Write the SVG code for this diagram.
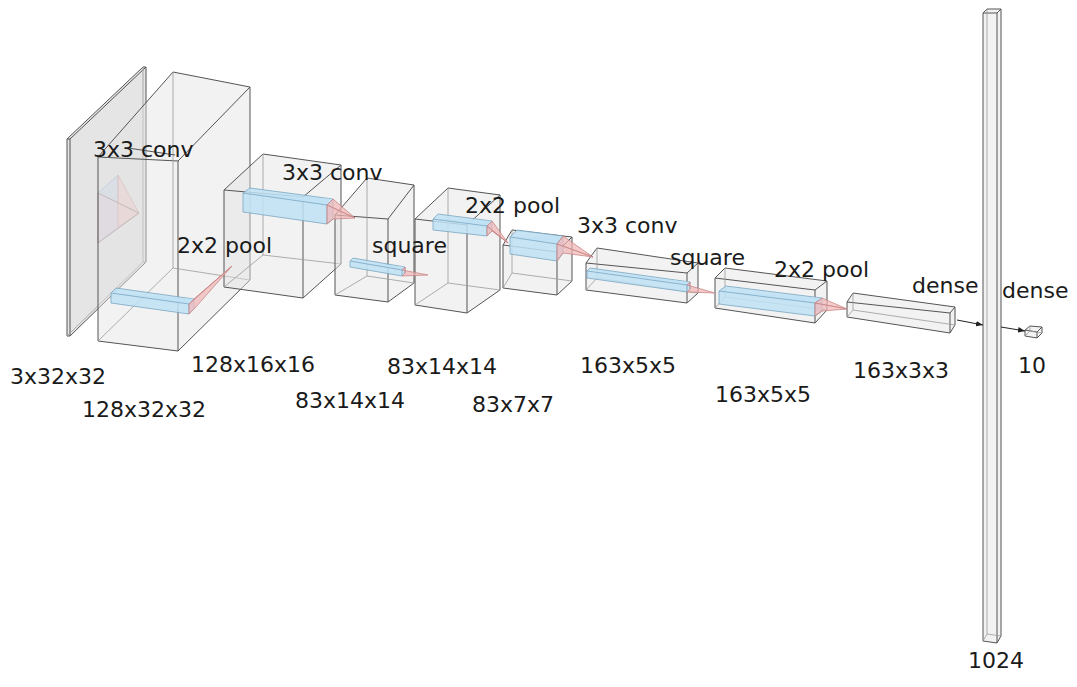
<svg xmlns="http://www.w3.org/2000/svg" width="1077" height="687" viewBox="0 0 1077 687">
<defs>
<style>
.sil{fill:#e2e2e2;fill-opacity:0.45;stroke:none}
.plane{fill:#cfcfcf;fill-opacity:0.55;stroke:none}
.vis{fill:none;stroke:#555;stroke-width:1}
.hid{fill:none;stroke:#9a9a9a;stroke-width:0.8}
.blue{fill:#bfe2f4;fill-opacity:0.85;stroke:#7aa6c2;stroke-width:0.8}
.pink{fill:#f2b5b5;fill-opacity:0.7;stroke:#c98686;stroke-width:0.8}
.faint-b{fill:#cdd9ea;fill-opacity:0.7;stroke:#aab6c8;stroke-width:0.7}
.faint-p{fill:#f0cccc;fill-opacity:0.75;stroke:#d4a8a8;stroke-width:0.7}
.arrow{fill:none;stroke:#222;stroke-width:1}
text{font-family:"DejaVu Sans",Verdana,sans-serif;font-size:22px;fill:#1a1a1a}
</style>
<marker id="ah" viewBox="0 0 10 10" refX="10" refY="5" markerWidth="7" markerHeight="7" orient="auto" markerUnits="userSpaceOnUse">
<path d="M0,1 L10,5 L0,9 Z" fill="#222"/>
</marker>
</defs>
<rect width="1077" height="687" fill="#ffffff"/>

<g id="layer-input">
<polygon class="plane" points="67,139 143,67 146,67 146,262 70,336 67,336"/>
<path class="vis" d="M67,139 L70,139 L70,336 L67,336 Z M67,139 L143,67 L146,67 L70,139 M146,67 L146,262 L70,336"/>
<path class="hid" d="M143,67 L143,262 L146,262 M143,262 L67,336"/>
<polygon class="faint-b" points="98,193 118,175 118,227 98,243"/>
<polygon class="faint-p" points="118,175 139,213 118,227"/>
<polygon class="faint-p" points="98,193 139,213 98,243" style="fill-opacity:0.35"/>
<path class="hid" d="M98,193 L139,213 M98,243 L139,213"/>
</g>

<g id="layer-conv1">
<polygon class="sil" points="98,157 173,72 250,87 250,280 178,351 98,341"/>
<path class="vis" d="M98,157 L178,161 L178,351 L98,341 Z M98,157 L173,72 L250,87 L178,161 M250,87 L250,280 L178,351"/>
<path class="hid" d="M173,72 L173,268 L250,280 M173,268 L98,341"/>
</g>

<g id="layer-pool1">
<polygon class="sil" points="224,190 263,154 341,165 341,264 303,298 224,287"/>
<path class="vis" d="M224,190 L303,197 L303,298 L224,287 Z M224,190 L263,154 L341,165 L303,197 M341,165 L341,264 L303,298"/>
<path class="hid" d="M263,154 L263,255 L341,264 M263,255 L224,287"/>
</g>

<g id="layer-conv2">
<polygon class="sil" points="335,215 367,178 414,185 414,283 388,302 335,295"/>
<path class="vis" d="M335,215 L388,219 L388,302 L335,295 Z M335,215 L367,178 L414,185 L388,219 M414,185 L414,283 L388,302"/>
<path class="hid" d="M367,178 L367,276 L414,283 M367,276 L335,295"/>
</g>

<g id="layer-square1">
<polygon class="sil" points="415,219 448,188 500,195 500,290 467,313 415,305"/>
<path class="vis" d="M415,219 L467,225 L467,313 L415,305 Z M415,219 L448,188 L500,195 L467,225 M500,195 L500,290 L467,313"/>
<path class="hid" d="M448,188 L448,283 L500,290 M448,283 L415,305"/>
</g>

<g id="layer-pool2">
<polygon class="sil" points="503,245 512,230 572,237 572,281 557,295 503,288"/>
<path class="vis" d="M503,245 L557,252 L557,295 L503,288 Z M503,245 L512,230 L572,237 L557,252 M572,237 L572,281 L557,295"/>
<path class="hid" d="M512,230 L512,273 L572,281 M512,273 L503,288"/>
</g>

<g id="layer-conv3">
<polygon class="sil" points="586,263 597,248 698,263 698,293 687,303 586,290"/>
<path class="vis" d="M586,263 L687,273 L687,303 L586,290 Z M586,263 L597,248 L698,263 L687,273 M698,263 L698,293 L687,303"/>
<path class="hid" d="M597,248 L597,278 L698,293 M597,278 L586,290"/>
</g>

<g id="layer-square2">
<polygon class="sil" points="715,278 725,268 827,281 827,310 815,323 715,308"/>
<path class="vis" d="M715,278 L815,290 L815,323 L715,308 Z M715,278 L725,268 L827,281 L815,290 M827,281 L827,310 L815,323"/>
<path class="hid" d="M725,268 L725,297 L827,310 M725,297 L715,308"/>
</g>

<g id="layer-pool3">
<polygon class="sil" points="847,302 853,293 955,307 955,325 950,333 847,317"/>
<path class="vis" d="M847,302 L950,313 L950,333 L847,317 Z M847,302 L853,293 L955,307 L950,313 M955,307 L955,325 L950,333"/>
<path class="hid" d="M853,293 L853,310 L955,325 M853,310 L847,317"/>
</g>

<g id="layer-dense1">
<polygon class="sil" points="983,13 987,9 1001,9 1001,636 997,643 983,641"/>
<path class="vis" d="M983,13 L997,13 L997,643 L983,641 Z M983,13 L987,9 L1001,9 L997,13 M1001,9 L1001,636 L997,643"/>
<path class="hid" d="M987,9 L987,634 L1001,636 M987,634 L983,641"/>
</g>

<g id="layer-dense2">
<polygon class="sil" points="1025,330 1030,326 1042,327 1042,333 1037,338 1025,336"/>
<path class="vis" d="M1025,330 L1037,332 L1037,338 L1025,336 Z M1025,330 L1030,326 L1042,327 L1037,332 M1042,327 L1042,333 L1037,338"/>
<path class="hid" d="M1030,326 L1030,331 L1042,333 M1030,331 L1025,336"/>
</g>

<g id="kernels">
<path class="vis" d="M128,148 L175,155"/>
<polygon class="blue" points="111,293 116,288 194,299 194,309 189,314 111,303"/>
<path class="blue" d="M111,293 L189,304 L194,299 M189,304 L189,314"/>
<polygon class="pink" points="189,304 194,299 232,266"/>
<polygon class="pink" points="189,304 189,314 194,309 232,266"/>
<polygon class="blue" points="243,193 250,188 333,199 333,219 327,224 243,212"/>
<path class="blue" d="M243,193 L327,205 L333,199 M327,205 L327,224"/>
<polygon class="pink" points="327,205 333,199 355,218"/>
<polygon class="pink" points="327,205 327,224 333,219 355,218"/>
<polygon class="blue" points="350,261 353,258 405,267 405,273 402,276 350,267"/>
<path class="blue" d="M350,261 L402,270 L405,267 M402,270 L402,276"/>
<polygon class="pink" points="402,270 405,267 405,273 402,276 428,275"/>
<polygon class="blue" points="433,219 438,214 492,221 492,231 487,236 433,230"/>
<path class="blue" d="M433,219 L487,226 L492,221 M487,226 L487,236"/>
<polygon class="pink" points="487,226 492,221 508,243"/>
<polygon class="pink" points="487,226 487,236 492,231 508,243"/>
<polygon class="blue" points="510,237 517,230 563,236 563,253 557,261 510,254"/>
<path class="blue" d="M510,237 L557,244 L563,236 M557,244 L557,261"/>
<polygon class="pink" points="557,244 563,236 593,257"/>
<polygon class="pink" points="557,244 557,261 563,253 593,257"/>
<polygon class="blue" points="587,271 590,268 690,282 690,289 687,292 587,278"/>
<path class="blue" d="M587,271 L687,285 L690,282 M687,285 L687,292"/>
<polygon class="pink" points="687,285 690,282 690,289 687,292 715,293"/>
<polygon class="blue" points="719,291 726,286 822,298 822,311 815,316 719,304"/>
<path class="blue" d="M719,291 L815,303 L822,298 M815,303 L815,316"/>
<polygon class="pink" points="815,303 822,298 847,309"/>
<polygon class="pink" points="815,303 815,316 822,311 847,309"/>
</g>

<g id="connectors">
<line class="arrow" x1="957" y1="320" x2="983" y2="325" marker-end="url(#ah)"/>
<line class="arrow" x1="1001" y1="327" x2="1025" y2="331" marker-end="url(#ah)"/>
</g>

<g id="labels">
<text x="93" y="157">3x3 conv</text>
<text x="177" y="253">2x2 pool</text>
<text x="282" y="180">3x3 conv</text>
<text x="372" y="253">square</text>
<text x="465" y="213">2x2 pool</text>
<text x="577" y="233">3x3 conv</text>
<text x="670" y="265">square</text>
<text x="774" y="277">2x2 pool</text>
<text x="912" y="293">dense</text>
<text x="1002" y="298">dense</text>
<text x="10" y="384">3x32x32</text>
<text x="82" y="417">128x32x32</text>
<text x="191" y="372">128x16x16</text>
<text x="295" y="408">83x14x14</text>
<text x="387" y="374">83x14x14</text>
<text x="472" y="412">83x7x7</text>
<text x="580" y="373">163x5x5</text>
<text x="715" y="402">163x5x5</text>
<text x="853" y="378">163x3x3</text>
<text x="1018" y="373">10</text>
<text x="968" y="668">1024</text>
</g>
</svg>
